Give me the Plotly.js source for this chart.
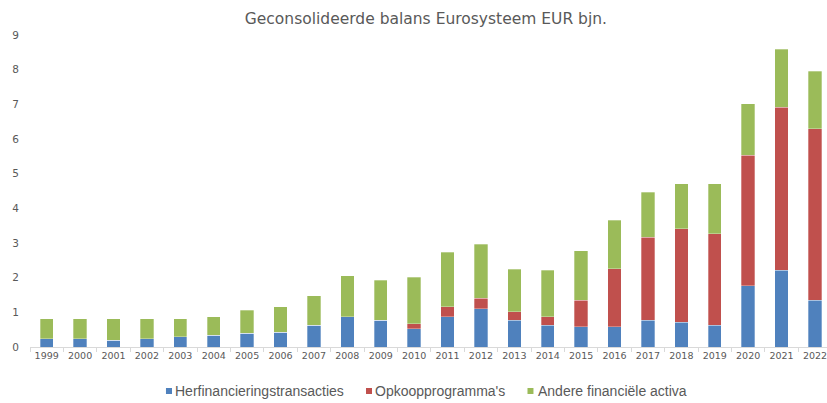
<!DOCTYPE html>
<html><head><meta charset="utf-8">
<script src="https://cdn.plot.ly/plotly-3.0.1.min.js"></script>
<style>body{margin:0;background:#fff}#chart{width:827px;height:403px}</style>
</head><body><div id="chart"></div>
<script>
const years = ['1999','2000','2001','2002','2003','2004','2005','2006','2007','2008','2009','2010','2011','2012','2013','2014','2015','2016','2017','2018','2019','2020','2021','2022'];
const herfinanciering = [0.24,0.24,0.19,0.24,0.29,0.34,0.39,0.43,0.63,0.87,0.77,0.53,0.87,1.11,0.77,0.63,0.58,0.58,0.77,0.72,0.63,1.77,2.21,1.35];
const opkoop = [0,0,0,0,0,0,0,0,0,0,0,0.14,0.29,0.29,0.24,0.24,0.77,1.68,2.40,2.69,2.63,3.76,4.70,4.95];
const andere = [0.58,0.58,0.63,0.58,0.53,0.53,0.67,0.73,0.85,1.19,1.15,1.34,1.57,1.57,1.24,1.34,1.43,1.39,1.29,1.30,1.45,1.48,1.68,1.66];
const names = ['Herfinancieringstransacties',"Opkoopprogramma's",'Andere financiële activa'];
const colors = ['#4F81BD','#C0504D','#9BBB59'];
const series = [herfinanciering, opkoop, andere];
const font = 'DejaVu Sans, sans-serif';
const legFont = 'Liberation Sans, Arial, sans-serif';
const traces = series.map((s,i)=>({type:'bar',x:years,y:s,name:names[i],marker:{color:colors[i],line:{color:'rgba(255,255,255,0.6)',width:0.5}},hoverinfo:'x+y+name',showlegend:false}));

// custom legend (paper coordinates)
const legSq = [[0.1706,0.1782],[0.4216,0.4291],[0.6242,0.6317]];
const legTx = [0.1794,0.4304,0.6355];
const legY = -0.141;
const shapes = legSq.map((s,i)=>({type:'rect',xref:'paper',yref:'paper',x0:s[0],x1:s[1],y0:legY-0.0096,y1:legY+0.0096,fillcolor:colors[i],line:{width:0}}));
const annotations = names.map((n,i)=>({text:n,xref:'paper',yref:'paper',x:legTx[i],y:legY,xanchor:'left',yanchor:'middle',showarrow:false,font:{family:legFont,size:14,color:'#595959'}}));

const layout = {
  width:827,height:403,autosize:false,
  margin:{l:30,r:0,t:35,b:56,pad:0,autoexpand:false},
  paper_bgcolor:'#fff',plot_bgcolor:'#fff',
  barmode:'stack',bargap:0.6,
  title:{text:'Geconsolideerde balans Eurosysteem EUR bjn.',x:0.515,xanchor:'center',y:0.955,yanchor:'middle',font:{family:font,size:15.5,color:'#595959'}},
  xaxis:{type:'category',range:[-0.5,23.36],showgrid:false,showline:true,linecolor:'#d9d9d9',linewidth:1,
    ticks:'outside',tickson:'boundaries',ticklen:4,tickcolor:'#d9d9d9',
    tickfont:{family:font,size:9.5,color:'#595959'},tickangle:0,fixedrange:true},
  yaxis:{range:[0,9],dtick:1,showgrid:false,showline:false,zeroline:false,ticks:'',ticklabelstandoff:10,
    tickfont:{family:font,size:10.5,color:'#595959'},fixedrange:true},
  shapes:shapes,annotations:annotations,
  showlegend:false
};
Plotly.newPlot('chart',traces,layout,{displayModeBar:false,staticPlot:true});
</script></body></html>
